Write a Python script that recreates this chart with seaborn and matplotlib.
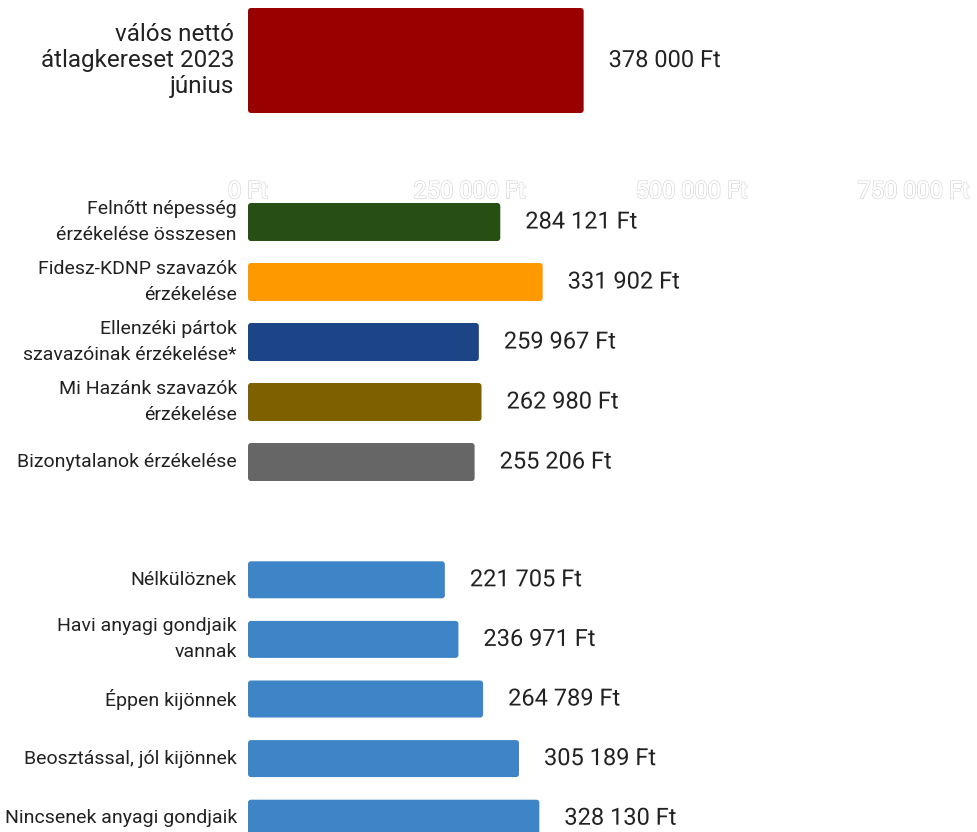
import textwrap
import matplotlib
matplotlib.use("Agg")
import matplotlib.pyplot as plt
import matplotlib.patheffects as pe
from matplotlib.patches import FancyBboxPatch
from matplotlib.ticker import FuncFormatter
import pandas as pd
import seaborn as sns

# --- data ---
ref_label = ["válós nettó átlagkereset 2023 június"]
ref_value = [378000]
ref_color = ["#990000"]

group_labels = [
    "Felnőtt népesség érzékelése összesen",
    "Fidesz-KDNP szavazók érzékelése",
    "Ellenzéki pártok szavazóinak érzékelése*",
    "Mi Hazánk szavazók érzékelése",
    "Bizonytalanok érzékelése",
]
group_values = [284121, 331902, 259967, 262980, 255206]
group_colors = ["#274e13", "#ff9900", "#1c4587", "#7f6000", "#666666"]

status_labels = [
    "Nélkülöznek",
    "Havi anyagi gondjaik vannak",
    "Éppen kijönnek",
    "Beosztással, jól kijönnek",
    "Nincsenek anyagi gondjaik",
]
status_values = [221705, 236971, 264789, 305189, 328130]
status_color = "#3d85c6"

x_ticks = [0, 250000, 500000, 750000]
x_max = 821000

sns.set_theme(style="white")
plt.rcParams["font.family"] = ["Roboto", "DejaVu Sans"]


def ft(v, pos=None):
    return f"{int(v):,}".replace(",", " ") + " Ft"


def round_bars(ax, radius_px=3):
    # swap the plain rectangles for rounded ones (radius in pixels)
    fig.canvas.draw()
    bb = ax.get_window_extent()
    x0, x1 = ax.get_xlim()
    y0, y1 = ax.get_ylim()
    xpp = (x1 - x0) / bb.width
    ypp = abs(y1 - y0) / bb.height
    for p in list(ax.patches):
        r = FancyBboxPatch((p.get_x(), p.get_y()), p.get_width(), p.get_height(),
                           boxstyle=f"round,pad=0,rounding_size={radius_px * xpp}",
                           mutation_aspect=ypp / xpp, facecolor=p.get_facecolor(),
                           edgecolor="none", linewidth=0)
        p.remove()
        ax.add_patch(r)


def draw_section(ax, labels, values, colors, wrap, bar_width, label_size, spacing):
    df = pd.DataFrame({"label": [textwrap.fill(l, wrap, break_on_hyphens=False) for l in labels],
                       "value": values})
    sns.barplot(data=df, x="value", y="label", hue="label", palette=colors,
                legend=False, width=bar_width, ax=ax, saturation=1)
    ax.set_xlim(0, x_max)
    ax.set_xlabel("")
    ax.set_ylabel("")
    ax.set_xticks([])
    sns.despine(ax=ax, left=True, bottom=True)
    ax.tick_params(axis="y", length=0, pad=8, labelsize=label_size, labelcolor="#222222")
    for t in ax.get_yticklabels():
        t.set_linespacing(spacing)
        t.set_verticalalignment("center")
    halo = [pe.withStroke(linewidth=3, foreground="white")]
    for p, v in zip(ax.patches, values):
        ax.annotate(ft(v), (p.get_width(), p.get_y() + p.get_height() / 2),
                    xytext=(25, 0), textcoords="offset pixels", va="center", ha="left",
                    fontsize=17, color="#222222", path_effects=halo)


fig = plt.figure(figsize=(9.77, 8.32), dpi=100)
left = 248 / 977
width = 1 - left

ax_top = fig.add_axes([left, 1 - 120.5 / 832, width, 120 / 832])
draw_section(ax_top, ref_label, ref_value, ref_color, 17, 105 / 120, 17.5, 1.18)
ax_top.tick_params(axis="y", pad=10)

ax_mid = fig.add_axes([left, 1 - 492 / 832, width, 300 / 832])
draw_section(ax_mid, group_labels, group_values, group_colors, 25, 38 / 60, 14, 1.58)
ax_mid.xaxis.tick_top()
ax_mid.set_xticks(x_ticks)
ax_mid.xaxis.set_major_formatter(FuncFormatter(ft))
ax_mid.tick_params(axis="x", length=0, pad=-8, labelsize=17, labelcolor="white")
for t in ax_mid.get_xticklabels():
    t.set_path_effects([pe.withStroke(linewidth=1.2, foreground="#d9d9d9"), pe.Normal()])

ax_bot = fig.add_axes([left, 1 - 848 / 832, width, 298 / 832])
draw_section(ax_bot, status_labels, status_values, [status_color] * 5, 25, 37 / 59.6, 14, 1.58)

for a in (ax_top, ax_mid, ax_bot):
    round_bars(a)

fig.savefig("out.png", dpi=100)
